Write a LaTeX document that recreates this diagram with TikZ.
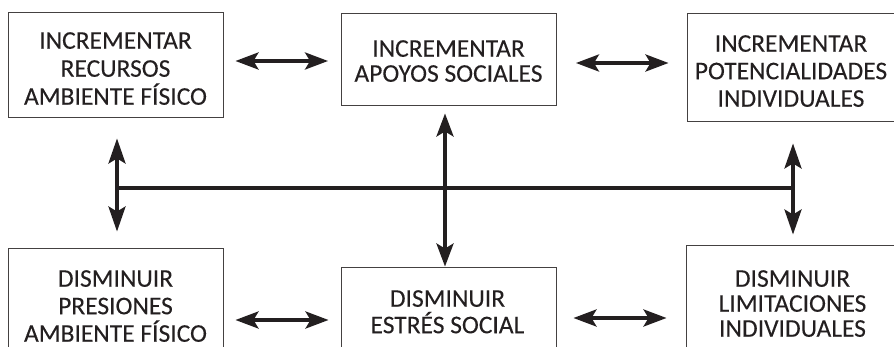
\documentclass[tikz,border=0pt]{standalone}
\usepackage{fontspec}
\setmainfont{Carlito}
\newfontfamily\boxfont{Carlito}[FakeBold=0.12]
\usetikzlibrary{arrows.meta}
\definecolor{ink}{HTML}{231F20}
\tikzset{
  box/.style={draw=ink!85, line width=0.9pt, rectangle, minimum width=215pt, inner sep=0pt},
  lbl/.style={anchor=north, align=center, text=ink, inner sep=0pt},
  dbl/.style={line width=3.6pt, draw=ink, {Stealth[length=23pt,width=17pt,inset=5pt]}-{Stealth[length=23pt,width=17pt,inset=5pt]}},
  ar/.style={line width=3.6pt, draw=ink, -{Stealth[length=25pt,width=17pt,inset=5pt]}},
  bus/.style={line width=3.6pt, draw=ink}
}
\begin{document}
\begin{tikzpicture}[x=1pt,y=-1pt]
\clip (0,0) rectangle (894,347);
\useasboundingbox (0,0) rectangle (894,347);
% boxes
\node[box, minimum height=105pt] (tl) at (115.5,64.5) {};
\node[box, minimum height=92pt] (tm) at (449,59) {};
\node[box, minimum height=108pt] (tr) at (794.5,67) {};
\node[box, minimum height=112pt] (bl) at (115.5,304) {};
\node[box, minimum height=90pt] (bm) at (448.5,312) {};
\node[box, minimum height=108pt] (br) at (793.5,299) {};
% texts
\node[lbl, font=\boxfont\fontsize{25.5}{28}\selectfont] (tlT) at (115.5,32) {INCREMENTAR\\RECURSOS\\AMBIENTE FÍSICO};
\node[lbl, font=\boxfont\fontsize{25.5}{25}\selectfont] (tmT) at (448.5,40) {INCREMENTAR\\APOYOS SOCIALES};
\node[lbl, font=\boxfont\fontsize{25.5}{27.5}\selectfont] (trT) at (791,35) {INCREMENTAR\\POTENCIALIDADES\\INDIVIDUALES};
\node[lbl, font=\boxfont\fontsize{25.5}{27.5}\selectfont] (blT) at (115.5,270) {DISMINUIR\\PRESIONES\\AMBIENTE FÍSICO};
\node[lbl, font=\boxfont\fontsize{25.5}{26.5}\selectfont] (bmT) at (447.5,290) {DISMINUIR\\ESTRÉS SOCIAL};
\node[lbl, font=\boxfont\fontsize{25.5}{25}\selectfont] (brT) at (792.5,270) {DISMINUIR\\LIMITACIONES\\INDIVIDUALES};
% horizontal double arrows
\draw[dbl, shorten <=12pt, shorten >=13pt] (tl.east |- 0,61) -- (tm.west |- 0,61);
\draw[dbl, shorten <=19pt, shorten >=18pt] (tm.east |- 0,63) -- (tr.west |- 0,63);
\draw[dbl, shorten <=12pt, shorten >=12pt] (bl.east |- 0,320) -- (bm.west |- 0,320);
\draw[dbl, shorten <=17pt, shorten >=19pt] (bm.east |- 0,318) -- (br.west |- 0,318);
% bus
\coordinate (jL) at (117,188);
\coordinate (jR) at (793,188);
\draw[bus] (jL) -- (jR);
\draw[ar, shorten >=21pt] (jL) -- (jL |- tl.south);
\draw[ar, shorten >=16pt] (jL) -- (jL |- bl.north);
\draw[ar, shorten >=22pt] (jR) -- (jR |- tr.south);
\draw[ar, shorten >=10pt] (jR) -- (jR |- br.north);
\draw[dbl, shorten <=8pt] (tm.south -| 445,0) -- (bm.north -| 445,0);
\end{tikzpicture}
\end{document}
